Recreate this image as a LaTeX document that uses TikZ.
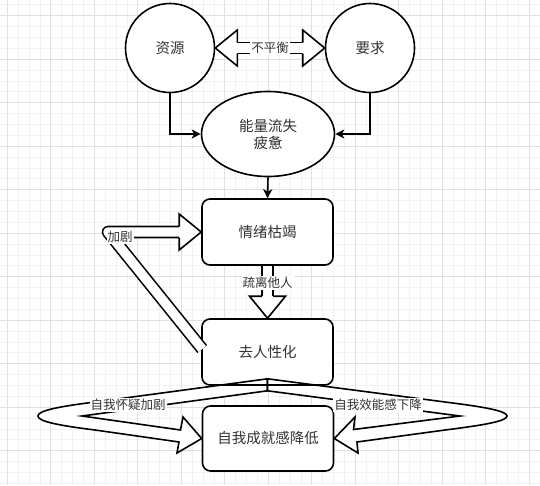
\documentclass[tikz,border=0pt]{standalone}
\usepackage{fontspec}
\usepackage{tikz}
\usetikzlibrary{shapes.geometric,arrows.meta,calc}
\newfontfamily\zhfont{Noto Sans CJK SC}
\newcommand{\nodefont}{\zhfont\fontsize{14.5pt}{17pt}\selectfont}
\newcommand{\lblfont}{\zhfont\fontsize{12.5pt}{15pt}\selectfont}
\definecolor{gridminor}{HTML}{F2F2F2}
\definecolor{gridmajor}{HTML}{E0E0E0}
\definecolor{txt}{HTML}{333333}

\tikzset{
  circ/.style={draw, circle, fill=white, inner sep=0pt, minimum size=89pt, font=\nodefont, text=txt},
  oval/.style={draw, ellipse, fill=white, inner sep=0pt, minimum width=133pt, minimum height=85pt, align=center, font=\nodefont, text=txt},
  box/.style={draw, rounded corners=8pt, fill=white, minimum width=131pt, minimum height=66pt, font=\nodefont, text=txt},
  lbl/.style={fill=white, inner sep=1pt, font=\lblfont, text=txt},
  flow/.style={-{Stealth[length=9pt,width=9pt,inset=2.5pt]}},
  shaft/.style={double=white, double distance=9.4pt},
  hollow/.style={draw, fill=white},
  bhead/.pic={
    \fill[white] (0,0) -- (-22,18) -- (-22,-18) -- cycle;
    \draw (-22,5.5) -- (-22,18) -- (0,0) -- (-22,-18) -- (-22,-5.5);
  }
}

\begin{document}
\begin{tikzpicture}[x=1pt,y=-1pt,line width=1.6pt]
\useasboundingbox (0,0) rectangle (540,485);
\fill[white] (0,0) rectangle (540,485);
% grid
\begin{scope}
\clip (0,0) rectangle (540,485);
\foreach \i in {0,...,49} {
  \draw[gridminor, line width=0.8pt] (7.3+\i*10.875,0) -- ++(0,485);
  \draw[gridminor, line width=0.8pt] (0,4.8+\i*10.875) -- ++(540,0);
}
\foreach \i in {0,...,12} {
  \draw[gridmajor, line width=0.8pt] (7.3+\i*43.5,0) -- ++(0,485);
  \draw[gridmajor, line width=0.8pt] (0,15.7+\i*43.5) -- ++(540,0);
}
\end{scope}

% nodes
\node[circ] (ziyuan) at (170,48) {资源};
\node[circ] (yaoqiu) at (370,48) {要求};
\node[oval] (nengliang) at (268,134) {能量流失\\疲惫};
\node[box] (qingxu) at (267.5,232) {情绪枯竭};
\node[box] (quren) at (267.5,352) {去人性化};
\node[box, minimum height=65pt] (chengjiu) at (268,438.5) {自我成就感降低};

% plain arrows
\draw[flow] (ziyuan.south) |- (nengliang.west);
\draw[flow] (yaoqiu.south) |- (nengliang.east);
\draw[flow] (nengliang.south) -- (qingxu.north);

% block arrows
\draw[shaft] ($(ziyuan.east)+(22,0)$) -- ($(yaoqiu.west)+(-22,0)$);
\pic[rotate=180] at (ziyuan.east) {bhead};
\pic at (yaoqiu.west) {bhead};
\node[lbl] (buping) at ($(ziyuan.east)!.5!(yaoqiu.west)$) {不平衡};

\draw[shaft] (qingxu.south) -- ($(quren.north)+(0,-22)$);
\pic[rotate=-90] at (quren.north) {bhead};
\node[lbl] (shuli) at ($(qingxu.south)+(0,17)$) {疏离他人};

\draw[shaft, line join=round] ($(quren.west)+(1,-3)$) -- (108,232) -- ($(qingxu.west)+(-22,0)$);
\pic at (qingxu.west) {bhead};
\node[lbl] (jiaju) at (120,237) {加剧};

% curved block arrows
\draw[hollow] ($(quren.south)+(0,-7)$) -- (95,402) .. controls (55,407) and (38,411) .. (38,416)
  .. controls (38,421) and (55,425) .. (95,430) -- (179,442) -- (177,453) -- (chengjiu.west)
  -- (183,417) -- (180.5,430) -- (82,416) -- ($(quren.south)+(0,5)$) -- cycle;
\draw[hollow] ($(quren.south)+(0,-7)$) -- (445,402) .. controls (485,407) and (507,411) .. (507,416)
  .. controls (507,421) and (485,425) .. (445,430) -- (357,442) -- (358,453) -- (chengjiu.east)
  -- (355,417) -- (353.5,429.5) -- (460,416) -- ($(quren.south)+(0,5)$) -- cycle;
\draw ($(quren.south west)+(9,-0.8)$) -- ($(quren.south east)+(-9,-0.8)$);
\node[lbl] (huaiyi) at (128,405) {自我怀疑加剧};
\node[lbl] (xiaoneng) at (378,405) {自我效能感下降};
\end{tikzpicture}
\end{document}
